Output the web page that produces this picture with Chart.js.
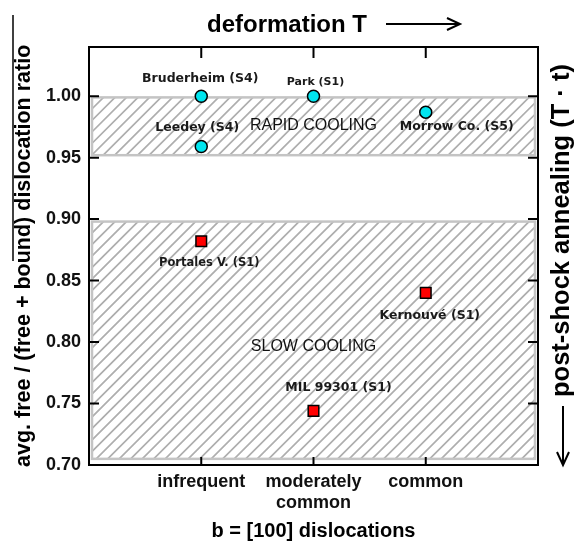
<!DOCTYPE html>
<html>
<head>
<meta charset="utf-8">
<script src="https://cdn.jsdelivr.net/npm/chart.js@4.4.1/dist/chart.umd.min.js"></script>
<style>
  html, body { margin: 0; padding: 0; background: #fff; }
  canvas { display: block; }
</style>
</head>
<body>
<canvas id="myChart" width="580" height="544"></canvas>
<script>
const categories = ['infrequent', 'moderately common', 'common'];
const categoryPos = [1, 2, 3];
const yTicks = [0.70, 0.75, 0.80, 0.85, 0.90, 0.95, 1.00];

// rapidly cooled meteorites (cyan circles)
const rapidNames = ['Bruderheim (S4)', 'Leedey (S4)', 'Park (S1)', 'Morrow Co. (S5)'];
const rapidCat = [1, 1, 2, 3];
const rapidRatio = [1.000, 0.959, 1.000, 0.987];

// slowly cooled meteorites (red squares)
const slowNames = ['Portales V. (S1)', 'Kernouvé (S1)', 'MIL 99301 (S1)'];
const slowCat = [1, 3, 2];
const slowRatio = [0.882, 0.840, 0.744];

// hatched regions
const bandNames = ['RAPID COOLING', 'SLOW COOLING'];
const bandLow = [0.952, 0.705];
const bandHigh = [0.999, 0.898];
const bandTextY = [0.976, 0.796];

// label placement, px from the marker
const rapidOffsets = [[-1, -17], [-4, -19], [2, -14], [31, 15]];
const slowOffsets = [[8, 22], [4, 23], [25, -23]];
const rapidSizes = [12.5, 12.5, 11, 12.5];
const slowSizes = [11.5, 12.5, 12.5];

const ARIAL = '"Liberation Sans", Arial, Helvetica, sans-serif';
const VERDANA = '"DejaVu Sans", Verdana, sans-serif';

function drawBand(ctx, area, ys, lo, hi) {
  const top = ys.getPixelForValue(hi), bot = ys.getPixelForValue(lo);
  const l = area.left + 3, r = area.right - 3;
  const h = bot - top;
  ctx.save();
  ctx.beginPath();
  ctx.rect(l, top, r - l, h);
  ctx.clip();
  ctx.beginPath();
  ctx.strokeStyle = '#aeaeae';
  ctx.lineWidth = 1.7;
  for (let x = l - h; x < r + 12; x += 11.5) {
    ctx.moveTo(x, bot);
    ctx.lineTo(x + h, top);
  }
  ctx.stroke();
  ctx.restore();
  ctx.strokeStyle = '#c4c4c4';
  ctx.lineWidth = 2.5;
  ctx.strokeRect(l, top, r - l, h);
}

const decor = {
  id: 'decor',
  beforeDatasetsDraw(chart) {
    const ctx = chart.ctx, area = chart.chartArea, xs = chart.scales.x, ys = chart.scales.y;
    ctx.save();
    for (let i = 0; i < bandNames.length; i++) {
      drawBand(ctx, area, ys, bandLow[i], bandHigh[i]);
    }
    ctx.fillStyle = '#111';
    ctx.font = '16px ' + ARIAL;
    ctx.textAlign = 'center';
    ctx.textBaseline = 'middle';
    for (let i = 0; i < bandNames.length; i++) {
      ctx.fillText(bandNames[i], xs.getPixelForValue(2), ys.getPixelForValue(bandTextY[i]));
    }
    ctx.restore();
  },
  afterDatasetsDraw(chart) {
    const ctx = chart.ctx;
    ctx.save();
    ctx.fillStyle = '#1a1a1a';
    ctx.textAlign = 'center';
    ctx.textBaseline = 'middle';
    const groups = [[rapidNames, rapidOffsets, rapidSizes], [slowNames, slowOffsets, slowSizes]];
    groups.forEach(([names, offs, sizes], d) => {
      chart.getDatasetMeta(d).data.forEach((pt, i) => {
        ctx.font = 'bold ' + sizes[i] + 'px ' + VERDANA;
        ctx.fillText(names[i], pt.x + offs[i][0], pt.y + offs[i][1]);
      });
    });
    ctx.restore();
  },
  afterDraw(chart) {
    const ctx = chart.ctx, a = chart.chartArea, xs = chart.scales.x, ys = chart.scales.y;
    ctx.save();
    // frame + inward ticks
    ctx.strokeStyle = '#000';
    ctx.lineWidth = 2;
    ctx.strokeRect(a.left, a.top, a.right - a.left, a.bottom - a.top);
    ctx.beginPath();
    yTicks.forEach(v => {
      const y = ys.getPixelForValue(v);
      ctx.moveTo(a.left, y); ctx.lineTo(a.left + 10, y);
      ctx.moveTo(a.right, y); ctx.lineTo(a.right - 10, y);
    });
    categoryPos.forEach(v => {
      const x = xs.getPixelForValue(v);
      ctx.moveTo(x, a.bottom); ctx.lineTo(x, a.bottom - 8);
      ctx.moveTo(x, a.top); ctx.lineTo(x, a.top + 11);
    });
    ctx.stroke();

    ctx.fillStyle = '#000';
    // top title with arrow
    ctx.font = 'bold 24px ' + ARIAL;
    ctx.textAlign = 'left';
    ctx.textBaseline = 'alphabetic';
    ctx.fillText('deformation T', 207, 32);
    ctx.lineWidth = 2;
    ctx.beginPath();
    ctx.moveTo(386, 24); ctx.lineTo(460, 24);
    ctx.moveTo(447, 18); ctx.lineTo(460, 24); ctx.lineTo(447, 30);
    ctx.stroke();

    // x title
    ctx.font = 'bold 20px ' + ARIAL;
    ctx.textAlign = 'center';
    ctx.textBaseline = 'middle';
    ctx.fillText('b = [100] dislocations', (a.left + a.right) / 2, 531);

    // y title (left)
    ctx.save();
    ctx.translate(24, 467);
    ctx.rotate(-Math.PI / 2);
    ctx.font = 'bold 21.5px ' + ARIAL;
    ctx.textAlign = 'left';
    ctx.fillText('avg. free / (free + bound) dislocation ratio', 0, 0);
    ctx.restore();
    ctx.lineWidth = 1.5;
    ctx.beginPath();
    ctx.moveTo(13, 15); ctx.lineTo(13, 261);
    ctx.stroke();

    // right title with downward arrow
    ctx.save();
    ctx.translate(562, 397);
    ctx.rotate(-Math.PI / 2);
    ctx.font = 'bold 25.5px ' + ARIAL;
    ctx.textAlign = 'left';
    ctx.fillText('post-shock annealing (T \u00b7 t)', 0, 0);
    ctx.restore();
    ctx.lineWidth = 2;
    ctx.beginPath();
    ctx.moveTo(563, 406); ctx.lineTo(563, 465);
    ctx.moveTo(557, 452); ctx.lineTo(563, 465); ctx.lineTo(569, 452);
    ctx.stroke();
    ctx.restore();
  }
};

const ctx = document.getElementById('myChart').getContext('2d');
new Chart(ctx, {
  type: 'scatter',
  data: {
    datasets: [{
      label: 'rapid cooling',
      data: rapidCat.map((c, i) => ({ x: c, y: rapidRatio[i] })),
      pointStyle: 'circle',
      pointRadius: 6,
      backgroundColor: '#00e5ef',
      borderColor: '#000',
      borderWidth: 1.5
    }, {
      label: 'slow cooling',
      data: slowCat.map((c, i) => ({ x: c, y: slowRatio[i] })),
      pointStyle: 'rect',
      pointRadius: 7.5,
      backgroundColor: '#ff0000',
      borderColor: '#000',
      borderWidth: 1.5
    }]
  },
  options: {
    responsive: false,
    animation: false,
    layout: { padding: { top: 47, right: 42, left: 0, bottom: 0 } },
    plugins: { legend: { display: false }, tooltip: { enabled: false }, title: { display: false } },
    scales: {
      x: {
        type: 'linear', min: 0, max: 4,
        grid: { display: false, drawTicks: false },
        border: { display: false },
        afterBuildTicks: s => { s.ticks = categoryPos.map(v => ({ value: v })); },
        afterFit: s => { s.height = 79; },
        ticks: {
          padding: 6,
          color: '#111',
          font: { family: ARIAL, size: 18, weight: 'bold', lineHeight: 1.2 },
          callback: v => {
            const c = categories[categoryPos.indexOf(v)];
            return c && c.includes(' ') ? c.split(' ') : c;
          }
        }
      },
      y: {
        min: 0.70, max: 1.04,
        grid: { display: false, drawTicks: false },
        border: { display: false },
        afterBuildTicks: s => { s.ticks = yTicks.map(v => ({ value: v })); },
        afterFit: s => { s.width = 89; },
        ticks: {
          padding: 8,
          color: '#111',
          font: { family: ARIAL, size: 18, weight: 'bold' },
          callback: v => v.toFixed(2)
        }
      }
    }
  },
  plugins: [decor]
});
</script>
</body>
</html>
